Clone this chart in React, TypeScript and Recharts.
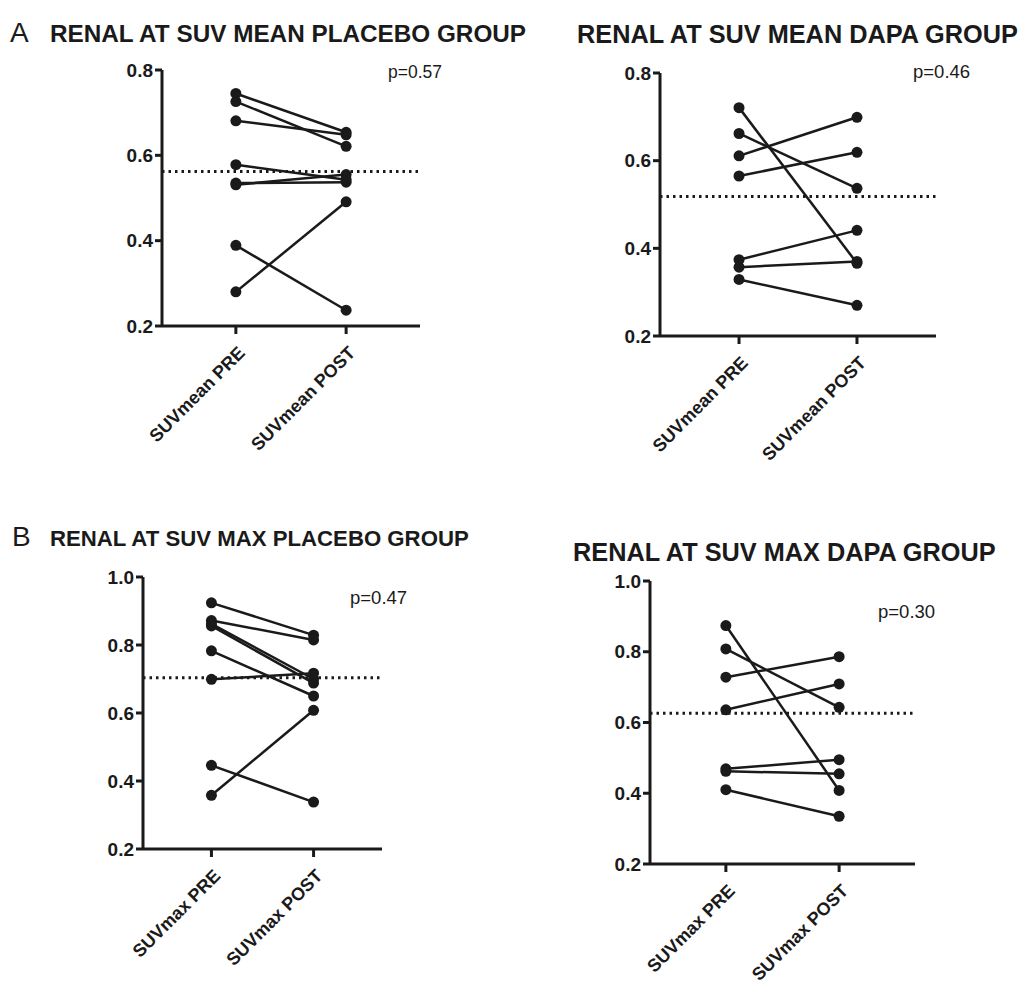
import React from 'react';
import { ScatterChart, Scatter, XAxis, YAxis, ReferenceLine } from 'recharts';

// values, one entry per subject
const meanPlaceboPre = [0.745, 0.726, 0.681, 0.578, 0.531, 0.535, 0.389, 0.28];
const meanPlaceboPost = [0.654, 0.621, 0.648, 0.543, 0.555, 0.537, 0.237, 0.491];
const meanDapaPre = [0.721, 0.662, 0.611, 0.565, 0.374, 0.357, 0.329];
const meanDapaPost = [0.366, 0.537, 0.699, 0.619, 0.441, 0.37, 0.27];
const maxPlaceboPre = [0.924, 0.872, 0.862, 0.856, 0.783, 0.699, 0.446, 0.358];
const maxPlaceboPost = [0.829, 0.815, 0.7, 0.688, 0.65, 0.717, 0.338, 0.608];
const maxDapaPre = [0.874, 0.808, 0.728, 0.636, 0.469, 0.462, 0.41];
const maxDapaPost = [0.408, 0.643, 0.786, 0.709, 0.495, 0.455, 0.335];

const meanLabels = ['SUVmean PRE', 'SUVmean POST'];
const maxLabels = ['SUVmax PRE', 'SUVmax POST'];
const meanTicks = [0.2, 0.4, 0.6, 0.8];
const maxTicks = [0.2, 0.4, 0.6, 0.8, 1.0];

const FONT = '"Liberation Sans", Arial, Helvetica, sans-serif';
const INK = '#1a1a1a';

const pairs = (pre: number[], post: number[]) =>
  pre.map((v, i) => [
    { x: 0, y: v },
    { x: 1, y: post[i] },
  ]);

const Dot = (props: any) => <circle cx={props.cx} cy={props.cy} r={5.5} fill={INK} />;

const SlantTick = ({ x, y, payload, labels }: any) => (
  <g transform={`translate(${x + 1},${y + 9}) rotate(-45)`}>
    <text x={0} y={0} dy="0.71em" textAnchor="end" fontFamily={FONT} fontWeight={700} fontSize={18} fill={INK}>
      {labels[payload.value]}
    </text>
  </g>
);

interface PanelProps {
  x0: number;
  x1: number;
  yTop: number;
  yBot: number;
  pre: number[];
  post: number[];
  ticks: number[];
  labels: string[];
  meanLine: number;
}

const Panel = ({ x0, x1, yTop, yBot, pre, post, ticks, labels, meanLine }: PanelProps) => {
  const axisW = 60;
  const top = 12;
  const right = 10;
  const xAxisH = 140;
  const width = x1 - x0 + axisW + right;
  const height = yBot - yTop + top + xAxisH;
  return (
    <div style={{ position: 'absolute', left: x0 - axisW, top: yTop - top }}>
      <ScatterChart width={width} height={height} margin={{ top, right, bottom: 0, left: 0 }}>
        <XAxis
          type="number"
          dataKey="x"
          domain={[-0.67, 1.67]}
          ticks={[0, 1]}
          height={xAxisH}
          tickSize={8}
          tickMargin={2}
          stroke={INK}
          strokeWidth={3}
          tick={<SlantTick labels={labels} />}
          allowDataOverflow
        />
        <YAxis
          type="number"
          dataKey="y"
          domain={[ticks[0], ticks[ticks.length - 1]]}
          ticks={ticks}
          width={axisW}
          tickSize={7}
          tickMargin={2}
          stroke={INK}
          strokeWidth={3}
          tickFormatter={(v: number) => v.toFixed(1)}
          tick={{ fontFamily: FONT, fontWeight: 700, fontSize: 19, fill: INK }}
          allowDataOverflow
        />
        <ReferenceLine y={meanLine} stroke={INK} strokeWidth={3} strokeDasharray="2.5 4" />
        {pairs(pre, post).map((d, i) => (
          <Scatter
            key={i}
            data={d}
            line={{ stroke: INK, strokeWidth: 2.5 }}
            shape={<Dot />}
            isAnimationActive={false}
          />
        ))}
      </ScatterChart>
    </div>
  );
};

const txt = { fontFamily: FONT, fill: INK } as const;

export default function App() {
  return (
    <div style={{ position: 'absolute', left: 0, top: 0, width: 1027, height: 1000, background: '#fff' }}>
      <Panel x0={162} x1={420} yTop={70} yBot={326} pre={meanPlaceboPre} post={meanPlaceboPost} ticks={meanTicks} labels={meanLabels} meanLine={0.562} />
      <Panel x0={660} x1={936} yTop={73} yBot={336} pre={meanDapaPre} post={meanDapaPost} ticks={meanTicks} labels={meanLabels} meanLine={0.518} />
      <Panel x0={143} x1={382} yTop={577} yBot={849} pre={maxPlaceboPre} post={maxPlaceboPost} ticks={maxTicks} labels={maxLabels} meanLine={0.704} />
      <Panel x0={650} x1={915} yTop={581} yBot={864} pre={maxDapaPre} post={maxDapaPost} ticks={maxTicks} labels={maxLabels} meanLine={0.626} />
      <svg width={1027} height={1000} style={{ position: 'absolute', left: 0, top: 0, pointerEvents: 'none' }}>
        <text x={10} y={42} fontSize={28} {...txt}>A</text>
        <text x={50} y={42} fontSize={24.3} fontWeight={700} {...txt}>RENAL AT SUV MEAN PLACEBO GROUP</text>
        <text x={577} y={43} fontSize={25.3} fontWeight={700} {...txt}>RENAL AT SUV MEAN DAPA GROUP</text>
        <text x={12} y={546} fontSize={28} {...txt}>B</text>
        <text x={50} y={546} fontSize={22.2} fontWeight={700} {...txt}>RENAL AT SUV MAX PLACEBO GROUP</text>
        <text x={573} y={561} fontSize={25.3} fontWeight={700} {...txt}>RENAL AT SUV MAX DAPA GROUP</text>
        <text x={388} y={78} fontSize={17.5} {...txt}>p=0.57</text>
        <text x={913} y={78} fontSize={18.5} {...txt}>p=0.46</text>
        <text x={350} y={604} fontSize={18.5} {...txt}>p=0.47</text>
        <text x={878} y={618} fontSize={18.5} {...txt}>p=0.30</text>
      </svg>
    </div>
  );
}
